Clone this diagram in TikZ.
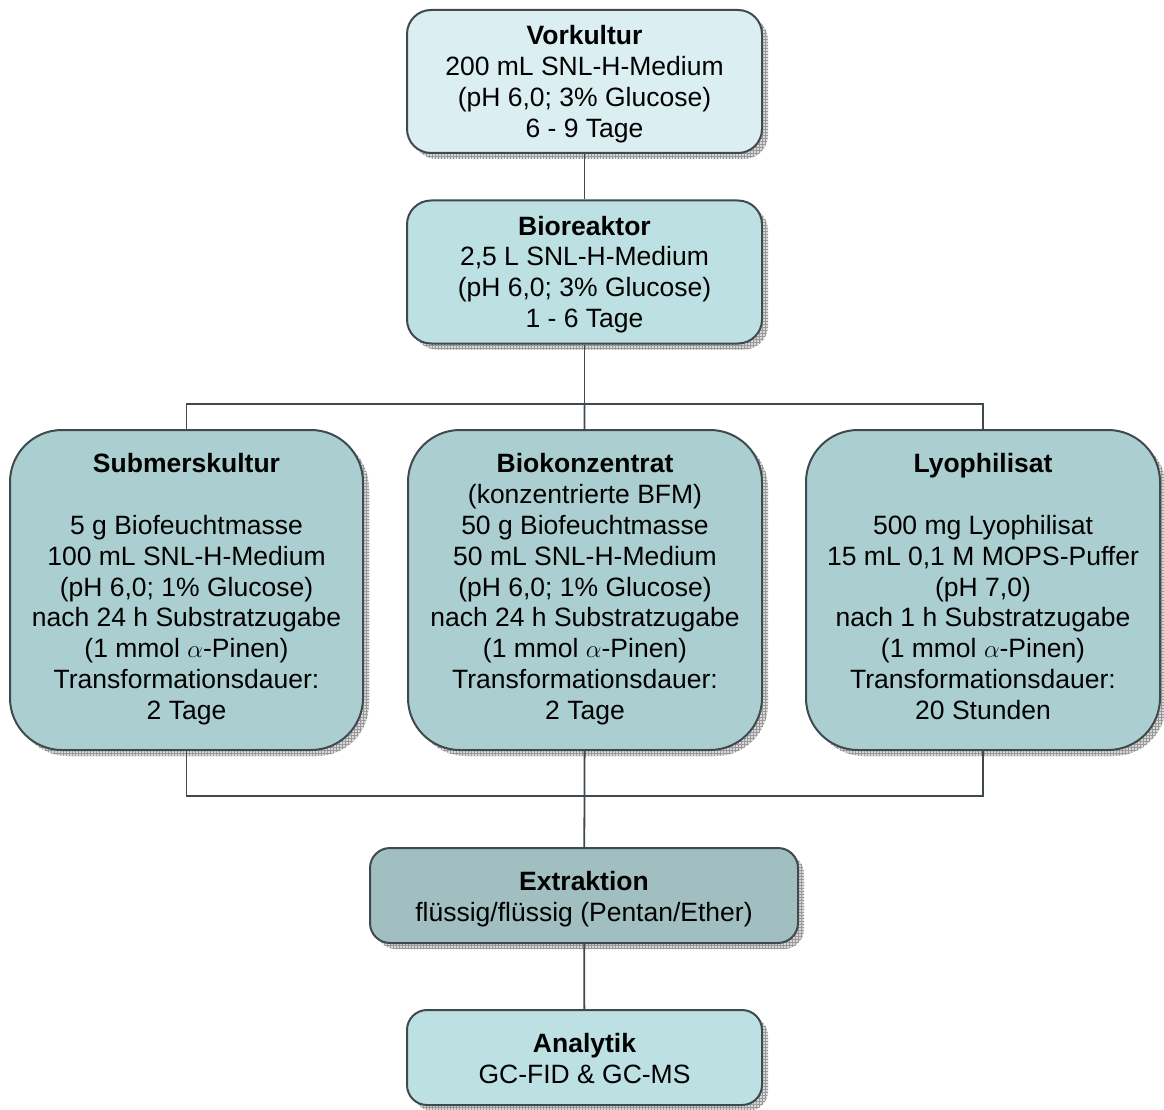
\documentclass[tikz,border=0pt]{standalone}
\usepackage{fontspec}
\setmainfont{Liberation Sans}
\usetikzlibrary{shadows,patterns}
\definecolor{boxline}{HTML}{3F4A4F}
\definecolor{colA}{HTML}{DBEEF1}
\definecolor{colB}{HTML}{BDE0E3}
\definecolor{colC}{HTML}{ABCFD1}
\definecolor{colD}{HTML}{A1BEC0}
\newcommand\gapup[1]{\rule{0pt}{#1}}
\begin{document}
\begin{tikzpicture}[x=1pt, y=-1pt,
  font=\fontsize{26.5}{30.8}\selectfont,
  box/.style={rectangle, draw=boxline, line width=2pt, align=center,
    inner sep=0pt, execute at end node=\strut,
    drop shadow={shadow xshift=6pt, shadow yshift=-6pt, opacity=1, fill=gray!30,
      postaction={pattern=grid, pattern color=gray!80}}},
  stage/.style={box, minimum width=355pt, minimum height=143pt, rounded corners=24pt},
  tall/.style={box, minimum width=353pt, minimum height=320pt, rounded corners=52pt},
  flat/.style={stage, minimum height=95pt, rounded corners=20pt},
  link/.style={draw=boxline, line width=1.8pt}]
\useasboundingbox (0,0) rectangle (1164,1110);
\node[stage, fill=colA] (vork) at (584.5,81.5) {\gapup{28pt}\textbf{Vorkultur}\\200 mL SNL-H-Medium\\(pH 6,0; 3\% Glucose)\\6 - 9 Tage};
\node[stage, fill=colB] (bio) at (584.5,272) {\gapup{28pt}\textbf{Bioreaktor}\\2,5 L SNL-H-Medium\\(pH 6,0; 3\% Glucose)\\1 - 6 Tage};
\node[tall, fill=colC] (sub) at (186.5,590) {\strut\textbf{Submerskultur}\\\strut\\5 g Biofeuchtmasse\\100 mL SNL-H-Medium\\(pH 6,0; 1\% Glucose)\\nach 24 h Substratzugabe\\(1 mmol $\alpha$-Pinen)\\Transformationsdauer:\\2 Tage};
\node[tall, minimum width=354pt, fill=colC] (konz) at (585,590) {\strut\textbf{Biokonzentrat}\\(konzentrierte BFM)\\50 g Biofeuchtmasse\\50 mL SNL-H-Medium\\(pH 6,0; 1\% Glucose)\\nach 24 h Substratzugabe\\(1 mmol $\alpha$-Pinen)\\Transformationsdauer:\\2 Tage};
\node[tall, minimum width=354pt, fill=colC] (lyo) at (983,590) {\strut\textbf{Lyophilisat}\\\strut\\500 mg Lyophilisat\\15 mL 0,1 M MOPS-Puffer\\(pH 7,0)\\nach 1 h Substratzugabe\\(1 mmol $\alpha$-Pinen)\\Transformationsdauer:\\20 Stunden};
\node[flat, minimum width=428pt, fill=colD] (ext) at (584,895.5) {\gapup{31pt}\textbf{Extraktion}\\flüssig/flüssig (Pentan/Ether)};
\node[flat, fill=colB] (ana) at (584.5,1057.5) {\gapup{31pt}\textbf{Analytik}\\GC-FID \& GC-MS};
\coordinate (split) at (584.5,404);
\coordinate (join) at (584.5,796);
\draw[link] (vork) -- (bio);
\draw[link] (bio) -- (split);
\draw[link] (sub.north) |- (split) -| (lyo.north);
\draw[link] (split) -- (konz);
\draw[link] (sub.south) |- (join) -| (lyo.south);
\draw[link] (konz) -- (join) -- (ext);
\draw[link] (ext) -- (ana);
\end{tikzpicture}
\end{document}
